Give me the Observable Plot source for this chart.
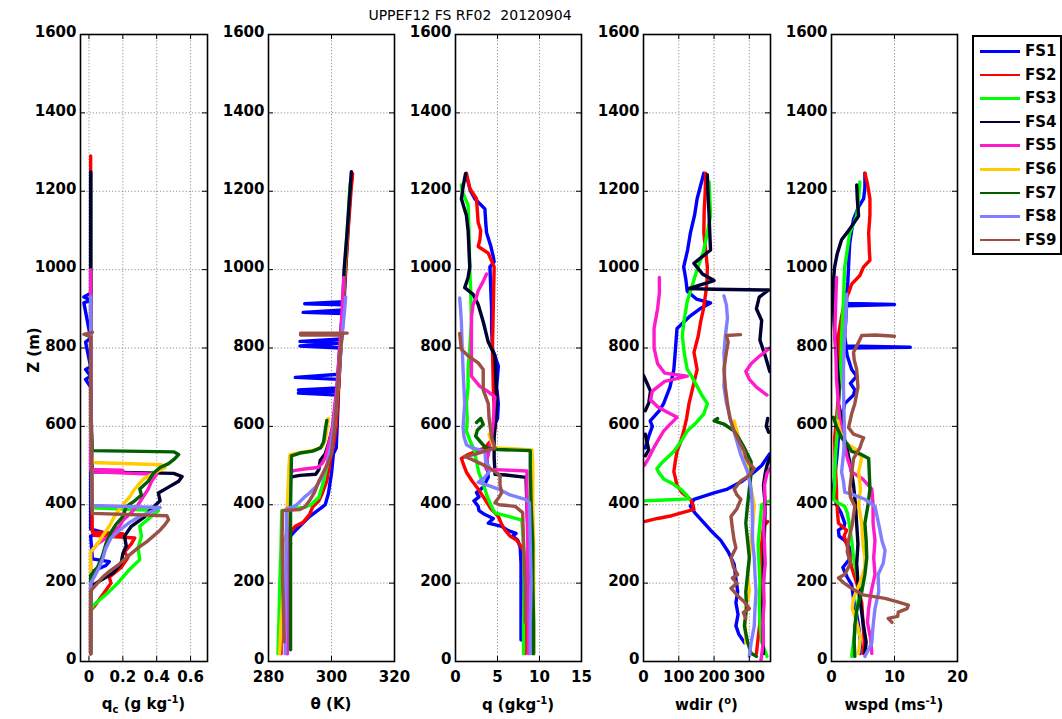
<!DOCTYPE html>
<html><head><meta charset="utf-8">
<script src="https://cdn.jsdelivr.net/npm/d3@7"></script>
<script src="https://cdn.jsdelivr.net/npm/@observablehq/plot@0.6"></script>
<style>
body{margin:0;background:#fff;}
#root{position:relative;width:1062px;height:719px;font-family:"DejaVu Sans",sans-serif;color:#000;overflow:hidden;}
.panel{position:absolute;}
.lbl{position:absolute;font-weight:bold;font-size:15px;white-space:nowrap;transform:translate(-50%,-50%);}
.lbl sub,.lbl sup{font-size:10px;}
#title{position:absolute;left:470px;top:15px;transform:translate(-50%,-50%);font-size:14px;white-space:pre;}
#ylab{position:absolute;left:34px;top:350px;transform:translate(-50%,-50%) rotate(-90deg);font-weight:bold;font-size:15px;white-space:nowrap;}
#legend{position:absolute;left:972px;top:35px;width:86px;height:216px;border:2px solid #000;background:#fff;}
.lrow{position:absolute;left:0;height:20px;}
.lline{position:absolute;left:6px;width:40px;height:2.5px;top:9px;}
.ltxt{position:absolute;left:51px;top:0;font-weight:bold;font-size:15px;line-height:20px;}
</style></head>
<body><div id="root"></div>
<script>
const stations = ["FS1","FS2","FS3","FS4","FS5","FS6","FS7","FS8","FS9"];
const colors = ["#0000ff","#ff0000","#00ff00","#000033","#ff1acc","#ffcc00","#006000","#8080ff","#9b5045"];
const zTicks = [0,200,400,600,800,1000,1200,1400,1600];

// profiles: [z (m), value]; null = gap
const qcProfiles = [
 [[20,0.01],[150,0.01],[230,0.02],[245,0.10],[255,0.12],[262,0.02],[320,0.01],[330,0.08],[338,0.01],[400,0.01],[700,0.01],[720,-0.02],[728,0.01],[745,-0.02],[752,0.01],[815,-0.02],[825,0.01],[915,-0.03],[922,0.01],[930,-0.03],[940,0.01],[1250,0.01]],
 [[20,0.01],[130,0.01],[140,0.03],[170,0.08],[200,0.13],[215,0.12],[240,0.19],[265,0.23],[280,0.21],[300,0.25],[315,0.27],[322,0.03],[326,0.2],[330,0.02],[600,0.01],[1000,0.01],[1290,0.01]],
 [[20,0.01],[130,0.01],[145,0.03],[175,0.11],[200,0.17],[210,0.19],[235,0.24],[260,0.3],[290,0.29],[320,0.31],[345,0.3],[360,0.34],[385,0.41],[392,0.02],[600,0.01],[1000,0.01],[1230,0.01]],
 [[20,0.01],[190,0.01],[205,0.06],[225,0.14],[250,0.19],[275,0.2],[295,0.22],[320,0.21],[345,0.25],[370,0.33],[390,0.37],[410,0.42],[430,0.41],[445,0.47],[460,0.53],[472,0.55],[480,0.5],[484,0.02],[700,0.01],[1000,0.01],[1250,0.01]],
 [[20,0.01],[280,0.01],[300,0.05],[320,0.12],[345,0.18],[360,0.2],[380,0.25],[400,0.29],[420,0.32],[440,0.35],[460,0.37],[478,0.4],[484,0.03],[488,0.2],[490,0.01],[700,0.01],[1000,0.01]],
 [[20,0.01],[280,0.01],[300,0.05],[320,0.08],[345,0.12],[370,0.15],[395,0.19],[420,0.24],[440,0.27],[465,0.32],[480,0.38],[495,0.45],[502,0.43],[508,0.02],[620,0.01]],
 [[20,0.01],[220,0.01],[240,0.05],[270,0.08],[300,0.1],[330,0.13],[350,0.16],[370,0.2],[395,0.22],[410,0.27],[425,0.31],[440,0.3],[460,0.35],[480,0.38],[495,0.42],[505,0.47],[515,0.5],[528,0.53],[535,0.5],[538,0.02],[620,0.01]],
 [[20,0.01],[200,0.01],[215,0.03],[240,0.06],[260,0.08],[290,0.1],[315,0.13],[335,0.18],[355,0.24],[370,0.3],[385,0.38],[393,0.42],[398,0.02],[700,0.01],[930,0.01]],
 [[20,0.01],[180,0.01],[195,0.04],[215,0.08],[230,0.12],[245,0.17],[265,0.22],[290,0.29],[305,0.34],[320,0.38],[335,0.42],[350,0.45],[362,0.47],[372,0.46],[378,0.02],[700,0.01],[828,0.01],[835,-0.03],[840,0.02]]
];

const thetaProfiles = [
 [[30,285.5],[100,285.2],[200,285],[280,285.5],[300,287],[310,286],[330,288],[351,290.6],[370,293],[390,296.4],[400,298],[428,299],[480,300],[530,300.6],[545,301.5],[600,301.8],[680,302.2],[685,289.5],[690,302.2],[693,289.5],[698,302.3],[720,302.4],[725,288.5],[733,302.5],[800,303],[805,290],[812,303],[817,290],[823,303.2],[888,303.8],[891,291],[897,303.8],[910,304],[913,291.5],[918,304],[1000,304.5],[1100,305.2],[1200,306],[1245,306.6]],
 [[20,284],[100,284],[200,284.3],[300,284.5],[320,285.5],[330,287],[345,288.5],[355,291],[375,293],[394,294],[410,296],[428,297],[460,298.5],[513,299.6],[560,300.8],[600,301.5],[700,302.3],[800,302.9],[900,303.7],[1000,304.5],[1100,305.3],[1200,306.2],[1245,306.7]],
 [[20,283],[100,283.3],[200,283.6],[300,284],[385,284.2],[390,288],[394,291.6],[400,293.5],[419,296],[460,297.5],[513,299],[545,300],[600,301],[700,302],[800,302.7],[900,303.6],[1000,304.2],[1100,305],[1220,305.9]],
 [[20,285.8],[100,286],[200,286.1],[300,286.2],[400,286.3],[470,286.5],[475,290],[478,295],[490,296],[513,296.4],[530,298],[560,299.2],[600,300.5],[700,301.8],[800,302.6],[900,303.5],[1000,304],[1100,305],[1250,306.3]],
 [[20,286],[200,286.2],[400,286.4],[480,286.6],[487,288],[492,292],[495,295.7],[505,297],[520,298],[560,299.3],[600,300.3],[700,301.7],[800,302.6],[900,303.4],[960,303.8],[980,303.9]],
 [[20,283.5],[100,284],[200,284.8],[300,285.5],[400,286],[500,286.5],[528,286.8],[533,290],[540,295],[548,297],[565,298],[590,298.5],[620,299]],
 [[30,287],[200,287],[400,287],[525,287.3],[532,290],[537,294],[545,296.5],[560,297.5],[590,298],[615,298.5]],
 [[20,285.3],[100,285.4],[200,285.5],[300,285.6],[390,285.8],[395,288],[400,289],[420,291.5],[430,293],[445,295],[470,297],[500,298.5],[550,299.8],[600,300.7],[700,302],[800,303],[900,304.2],[930,304.5]],
 [[50,285],[150,284.7],[200,284.5],[309,284.3],[385,284.5],[388,290],[394,291.5],[410,293],[430,294.5],[460,296],[500,298.5],[530,300],[600,301],[700,302],[780,302.7],[828,303.3],[833,303.5],[833,290.2],[838,290.2],[838,305]]
];

const qProfiles = [
 [[55,7.8],[150,7.8],[250,7.8],[292,7.7],[310,7.4],[320,6.8],[327,7.2],[335,6.2],[345,5.5],[353,3.9],[365,4.5],[375,3.5],[385,2.8],[396,2.7],[410,2.2],[420,2.8],[431,2.5],[445,3.3],[470,3.9],[500,3.8],[518,3.7],[560,4.2],[597,4.5],[620,5.0],[658,5.1],[700,4.9],[754,5.1],[797,4.4],[850,4.3],[900,4.3],[950,4.2],[1007,4.1],[1020,4.6],[1033,4.5],[1060,4.2],[1094,3.7],[1120,3.6],[1155,3.5],[1170,2.8],[1181,2.3],[1200,1.8],[1240,1.3]],
 [[20,8.3],[100,8.3],[200,8.3],[283,8.1],[300,7.6],[309,7.3],[320,6.5],[335,5.9],[350,5.5],[370,5.1],[390,4.2],[414,3.5],[440,2.7],[460,2],[483,1.3],[500,1.0],[518,0.7],[528,1.5],[545,3.5],[571,4.5],[597,4.7],[650,4.6],[700,4.5],[800,4.4],[900,4.5],[1007,4.6],[1042,3.9],[1059,2.7],[1076,2.9],[1100,3.0],[1120,2.7],[1150,2.6],[1181,2.5],[1207,1.7],[1246,1.3]],
 [[20,8.1],[100,8.1],[200,8.2],[300,8.1],[361,7.9],[375,5.5],[379,4.7],[400,4.2],[420,3.8],[440,3.5],[460,3.2],[480,2.8],[500,2.6],[520,2.4],[536,2.3],[560,1.8],[588,1.3],[620,1.4],[658,1.3],[700,1.5],[745,1.5],[800,1.7],[867,1.9],[950,1.8],[1000,1.7],[1100,1.6],[1164,1.5],[1200,0.8],[1216,0.7]],
 [[20,9.2],[100,9.1],[200,9.0],[300,8.7],[400,8.5],[470,8.4],[476,6],[478,4.7],[484,4.7],[520,4.6],[571,4.6],[620,4.8],[675,4.9],[720,4.8],[780,4.7],[815,3.9],[867,3.3],[911,2.7],[937,2.1],[954,1.1],[980,1.5],[1007,1.7],[1100,1.5],[1138,1.3],[1181,0.7],[1211,0.9],[1245,1.2]],
 [[20,8.7],[100,8.7],[200,8.6],[300,8.6],[400,8.5],[486,8.5],[489,5.5],[490,3.7],[500,3.5],[527,3.9],[571,4.3],[614,4.5],[650,4.6],[675,4.7],[690,3.8],[702,2.9],[728,1.9],[800,1.9],[880,1.9],[911,2.1],[930,2.5],[946,2.7],[970,3.3],[989,3.7]],
 [[20,9.3],[100,9.3],[200,9.3],[300,9.3],[400,9.2],[500,9.2],[540,9.1],[545,5],[548,4.5],[560,4.3],[580,4.0]],
 [[20,9.3],[100,9.3],[200,9.2],[300,9.2],[400,9.0],[500,8.9],[538,8.9],[541,5.0],[545,3.6],[560,3.0],[575,2.4],[590,2.6],[605,3.3],[620,3.0],[610,2.5]],
 [[20,8.9],[100,8.9],[200,9.0],[300,8.9],[405,8.8],[414,8.3],[425,6.5],[440,5.1],[450,3.8],[457,2.7],[470,3.5],[490,4.2],[510,3.6],[536,3.5],[545,2],[553,1.3],[575,1.0],[597,0.9],[630,1.0],[658,1.1],[700,1.0],[745,0.9],[800,0.8],[867,0.7],[900,0.6],[928,0.5]],
 [[100,8.3],[200,8.3],[300,8.1],[380,8.0],[396,7.1],[400,5.2],[405,4.7],[420,5.2],[431,5.5],[450,5.3],[475,5.3],[490,4.3],[505,3.0],[515,2.0],[523,1.1],[530,2.5],[545,4.7],[571,4.3],[620,4.0],[658,3.9],[693,3.3],[745,3.3],[762,2.7],[780,1.5],[797,0.7],[837,0.5]]
];

const wdirProfiles = [
 [[48,286],[70,270],[91,262],[120,268],[150,262],[178,267],[210,262],[248,257],[280,240],[309,219],[335,190],[360,165],[380,145],[396,133],[414,143],[430,200],[440,238],[460,280],[484,314],[500,335],[520,350],[530,358],null,[545,5],[575,15],[600,25],[614,19],[640,45],[658,57],[700,75],[745,86],[790,90],[850,95],[880,130],[900,160],[915,190],[925,150],[945,124],[975,120],[1007,114],[1050,125],[1094,133],[1140,145],[1181,152],[1246,171]],
 [[20,320],[100,330],[200,332],[300,335],[345,340],[357,352],null,[357,2],[365,40],[372,80],[380,110],[388,143],[400,140],[414,133],[430,110],[449,95],[470,90],[484,86],[510,90],[536,95],[560,105],[588,114],[620,122],[658,129],[700,140],[745,152],[789,143],[830,155],[867,162],[900,170],[937,176],[970,180],[1007,181],[1050,176],[1094,171],[1150,172],[1200,175],[1246,176]],
 [[13,350],[50,335],[100,330],[150,328],[200,330],[240,328],[300,325],[350,330],[400,335],[409,355],null,[410,0],[412,60],[415,130],[423,124],[440,105],[455,80],[466,57],[480,45],[492,38],[510,55],[536,86],[560,105],[588,124],[610,150],[632,171],[658,181],[680,165],[702,152],[730,135],[745,124],[790,115],[832,110],[870,115],[919,124],[950,135],[989,148],[1020,160],[1050,171],[1090,180],[1137,190],[1180,188],[1224,186]],
 [[20,340],[100,338],[200,340],[300,342],[400,345],[450,340],[480,345],[500,350],[520,358],null,[525,5],[540,15],[560,10],[580,5],null,[585,355],[600,348],[620,352],null,[640,5],[660,15],[690,20],[710,10],[730,0],null,[740,358],[780,345],[820,330],[870,335],[900,320],[930,328],[948,355],[950,200],[952,130],[972,200],[989,167],[1016,143],[1050,190],[1090,188],[1137,186],[1190,183],[1242,181]],
 [[4,333],[50,340],[100,338],[150,342],[200,340],[250,345],[300,343],[350,340],[400,345],[450,343],[480,350],[492,358],null,[501,3],[520,15],[545,29],[570,45],[588,57],[605,75],[623,95],[640,60],[650,40],[660,29],[667,20],[690,25],[715,60],[728,124],[736,60],[760,40],[800,30],[850,30],[900,40],[940,45],[980,45],null,[800,358],[780,330],[760,305],[740,290],[720,300],[700,320],[680,350]],
 [[48,290],[91,288],[135,290],[180,300],[222,295],[265,300],[309,305],[353,310],[400,314],[440,305],[484,300],[527,286],[570,270],[614,257]],
 [[13,320],[21,305],[50,295],[91,286],[135,292],[178,290],[222,295],[265,300],[309,295],[353,290],[400,295],[440,300],[480,305],[510,305],[545,286],[570,270],[588,257],[606,228],[614,200],[620,210]],
 [[13,300],[48,305],[91,314],[135,316],[178,319],[222,316],[265,314],[309,309],[353,309],[400,308],[440,305],[484,295],[527,276],[570,262],[614,248],[660,235],[702,228],[745,230],[789,228],[830,232],[876,238],[910,235],[933,228]],
 [[110,290],[125,283],[135,300],[152,286],[165,270],[187,248],[200,265],[213,252],[222,267],[240,255],[265,248],[290,262],[309,257],[340,252],[370,248],[390,265],[414,276],[425,265],[440,257],[460,275],[475,300],[492,314],[505,300],[520,290],[536,286],[560,272],[588,257],[620,245],[658,238],[700,232],[745,228],[790,235],[815,240],[832,235],[834,275]]
];

const wspdProfiles = [
 [[20,4.5],[50,4.6],[91,4.3],[120,4.0],[135,3.7],[160,3.5],[196,3.2],[215,2.5],[240,1.8],[260,2.8],[283,3.2],[300,2.5],[309,2.1],[320,1.2],[335,1.1],[345,2.0],[353,2.1],[380,1.5],[400,0.8],[420,0.5],[440,0.3],[484,0.6],[530,0.9],[571,1.1],[620,1.6],[658,2.1],[680,3.5],[693,3.7],[710,3.0],[728,4.0],[745,3.2],[780,2.5],[800,2.3],[802,12.5],[805,2.3],[832,2.1],[880,2.3],[908,2.4],[911,10],[914,2.4],[937,2.4],[970,2.6],[1007,2.7],[1040,2.8],[1068,2.9],[1100,3.2],[1129,3.5],[1160,4.3],[1181,5.1],[1210,5.3],[1246,5.3]],
 [[20,5.0],[50,5.2],[100,5.0],[150,4.8],[200,4.0],[240,3.2],[283,2.7],[300,2.4],[320,2.0],[335,2.4],[353,1.1],[370,1.0],[396,0.9],[420,0.8],[440,0.8],[500,0.6],[571,0.5],[620,0.8],[658,1.0],[702,1.3],[740,1.2],[780,1.1],[832,1.1],[880,1.6],[919,2.1],[940,2.7],[963,3.2],[985,4.5],[1007,5.1],[1024,6.1],[1050,6.0],[1094,5.9],[1140,6.1],[1181,6.1],[1220,5.7],[1246,5.3]],
 [[13,3.2],[50,3.5],[91,3.8],[135,4.0],[178,4.5],[222,4.0],[265,3.5],[309,3.2],[353,2.8],[380,2.5],[396,2.1],[405,1.0],[414,0.3],[450,0.5],[484,0.5],[540,0.7],[580,0.9],[620,1.0],[658,1.1],[700,1.3],[760,1.5],[830,1.6],[919,1.9],[970,2.0],[1007,2.1],[1050,2.5],[1094,2.9],[1137,4.0],[1180,4.3],[1224,4.5]],
 [[21,5.3],[50,5.5],[100,5.0],[150,4.6],[200,4.2],[250,4.0],[300,4.2],[350,4.0],[400,3.8],[450,3.5],[500,3.0],[540,2.5],[571,2.0],[600,1.5],[623,1.6],[658,1.1],[700,1.2],[760,0.9],[820,0.6],[870,0.4],[919,0.3],[970,0.3],[1007,0.5],[1040,0.9],[1076,1.6],[1095,2.5],[1111,3.2],[1137,4.3],[1180,4.1],[1216,4.0]],
 [[21,6.4],[60,6.2],[100,5.7],[135,5.9],[178,6.3],[222,6.9],[265,6.7],[309,6.9],[353,6.6],[400,6.6],[440,6.4],[465,5.0],[484,3.2],[520,2.5],[571,1.8],[620,1.3],[658,1.1],[720,0.8],[780,0.7],[832,0.5],[880,0.6],[930,0.7],[980,0.8]],
 [[21,4.3],[60,4.6],[100,4.0],[135,3.3],[161,3.5],[200,4.5],[240,5.3],[265,5.3],[300,5.0],[353,4.8],[400,4.3],[440,4.6],[484,4.3],[520,4.8],[540,4.0],[560,2.0],[590,1.3],[614,1.0]],
 [[13,3.7],[50,3.6],[91,3.7],[130,4.0],[178,4.8],[222,5.3],[265,5.6],[309,5.5],[353,5.3],[400,5.8],[440,6.1],[480,6.0],[518,5.9],[530,4.5],[536,3.2],[555,2.5],[571,1.6],[600,0.8],[623,0.3]],
 [[13,5.3],[48,6.4],[91,6.6],[135,6.9],[178,7.5],[222,7.4],[250,8.2],[283,8.5],[309,8.0],[350,7.5],[396,6.9],[414,5.3],[425,3.5],[432,2.1],[460,1.9],[484,1.6],[530,1.9],[571,2.1],[620,2.0],[700,1.9],[745,1.9],[800,2.0],[832,2.1],[880,2.3],[937,2.4]],
 [[100,9.6],[110,9.0],[115,10.5],[126,10.6],[135,12.0],[144,12.2],[152,10.5],[161,8.5],[170,5.0],[187,3.2],[200,2.0],[213,1.1],[222,2.1],[250,3.0],[280,2.5],[309,2.7],[350,3.3],[396,3.7],[420,3.0],[440,2.9],[480,3.2],[518,3.5],[545,4.5],[560,4.8],[571,5.1],[580,3.5],[597,2.7],[632,3.2],[658,3.7],[700,4.2],[745,4.0],[770,3.6],[789,3.5],[815,4.3],[825,4.6],[832,4.8],[833,7],[830,10]]
];

const panels = [
 {profiles: qcProfiles, domain: [-0.05, 0.7], ticks: [0, 0.2, 0.4, 0.6], left: 80, width: 127, label: 'q<sub>c</sub> (g kg<sup>-1</sup>)'},
 {profiles: thetaProfiles, domain: [280, 320], ticks: [280, 300, 320], left: 268, width: 126, label: 'θ (K)'},
 {profiles: qProfiles, domain: [0, 15], ticks: [0, 5, 10, 15], left: 455, width: 126, label: 'q (gkg<sup>-1</sup>)'},
 {profiles: wdirProfiles, domain: [0, 360], ticks: [0, 100, 200, 300], left: 643, width: 127, label: 'wdir (<sup>o</sup>)'},
 {profiles: wspdProfiles, domain: [0, 20], ticks: [0, 10, 20], left: 831, width: 126, label: 'wspd (ms<sup>-1</sup>)'}
];

const root = document.getElementById("root");
const frameTop = 34, frameH = 627;
const mL = 55, mR = 8, mT = 8, mB = 28;
const gridStyle = {stroke: "#777", strokeOpacity: 1, strokeWidth: 0.8, strokeDasharray: "1.2,2"};

panels.forEach(p => {
  const marks = [
    Plot.gridX(p.ticks, gridStyle),
    Plot.gridY(zTicks, gridStyle)
  ];
  p.profiles.forEach((prof, i) => {
    const data = prof.map(d => d ? {z: d[0], v: d[1]} : {z: NaN, v: NaN});
    marks.push(Plot.line(data, {x: "v", y: "z", stroke: colors[i], strokeWidth: 3.4, strokeLinejoin: "round", clip: true}));
  });
  marks.push(Plot.axisX(p.ticks, {anchor: "bottom", tickSize: 0, tickPadding: 10, tickFormat: d => String(d)}));
  marks.push(Plot.axisY(zTicks, {anchor: "left", tickSize: 0, tickPadding: 4, dy: -2, tickFormat: d => String(d)}));
  marks.push(Plot.tickX(p.ticks, {stroke: "black", strokeWidth: 1, insetTop: frameH - 5}));
  marks.push(Plot.tickX(p.ticks, {stroke: "black", strokeWidth: 1, insetBottom: frameH - 5}));
  marks.push(Plot.tickY(zTicks, {stroke: "black", strokeWidth: 1, insetRight: p.width - 5}));
  marks.push(Plot.tickY(zTicks, {stroke: "black", strokeWidth: 1, insetLeft: p.width - 5}));
  marks.push(Plot.frame({stroke: "black", strokeWidth: 1.6}));
  const svg = Plot.plot({
    width: mL + p.width + mR, height: mT + frameH + mB,
    marginLeft: mL, marginRight: mR, marginTop: mT, marginBottom: mB,
    style: {fontFamily: "DejaVu Sans", fontSize: "15px", fontWeight: "bold", color: "#000", background: "transparent", overflow: "visible"},
    x: {domain: p.domain, label: null},
    y: {domain: [0, 1600], label: null},
    marks
  });
  const div = document.createElement("div");
  div.className = "panel";
  div.style.left = (p.left - mL) + "px";
  div.style.top = (frameTop - mT) + "px";
  div.appendChild(svg);
  root.appendChild(div);
  const lab = document.createElement("div");
  lab.className = "lbl";
  lab.style.left = (p.left + p.width / 2) + "px";
  lab.style.top = "704px";
  lab.innerHTML = p.label;
  root.appendChild(lab);
});

const title = document.createElement("div");
title.id = "title";
title.textContent = "UPPEF12 FS RF02  20120904";
root.appendChild(title);

const ylab = document.createElement("div");
ylab.id = "ylab";
ylab.textContent = "Z (m)";
root.appendChild(ylab);

const legend = document.createElement("div");
legend.id = "legend";
stations.forEach((s, i) => {
  const row = document.createElement("div");
  row.className = "lrow";
  row.style.top = (4 + i * 23.6) + "px";
  row.innerHTML = `<div class="lline" style="background:${colors[i]}"></div><div class="ltxt">${s}</div>`;
  legend.appendChild(row);
});
root.appendChild(legend);
</script>
</body></html>
